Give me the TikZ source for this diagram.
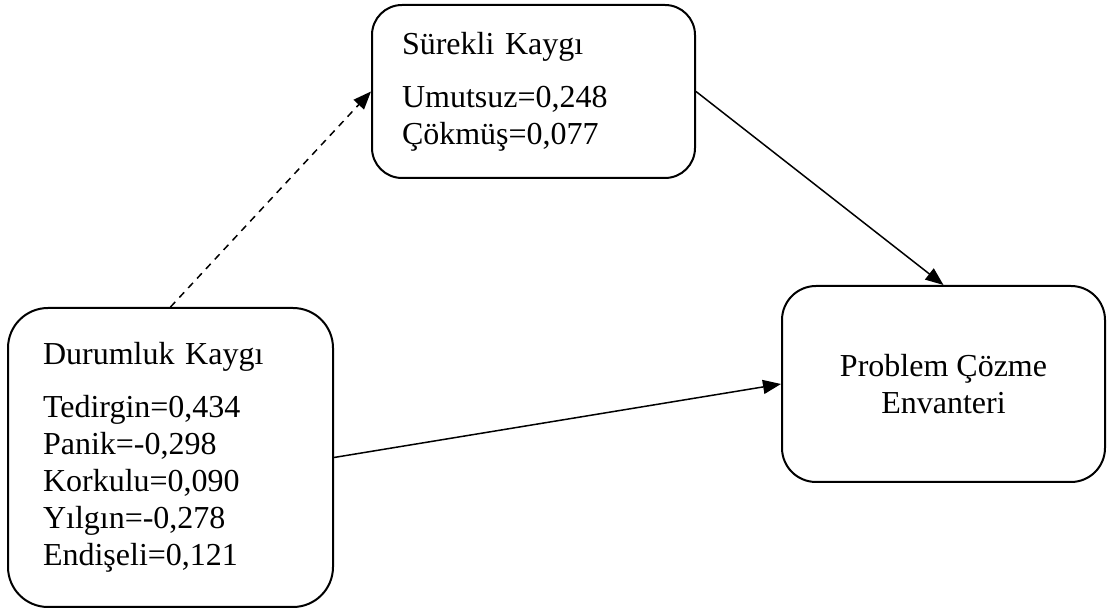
\documentclass[tikz,border=0pt]{standalone}
\usepackage{fontspec}
\setmainfont{Liberation Serif}
\usetikzlibrary{arrows.meta}

\begin{document}
\begin{tikzpicture}[x=0.5pt, y=-0.5pt, every node/.style={font=\fontsize{16}{18.5}\selectfont}, box/.style={draw,line width=1pt,inner ysep=0pt}, arr/.style={-{Triangle[length=9pt,width=7pt]},line width=0.75pt}]
\useasboundingbox (0,0) rectangle (1109,613);
\node[box,rounded corners=20pt,minimum width=162.5pt,minimum height=149.5pt,text width=127.5pt,inner xsep=17.5pt,align=left] (durum) at (170.5,457.5) {Durumluk Kaygı\\[8pt]Tedirgin=0,434\\Panik=-0,298\\Korkulu=0,090\\Yılgın=-0,278\\Endişeli=0,121};
\node[box,rounded corners=15pt,minimum width=161.5pt,minimum height=86.5pt,text width=131.5pt,inner xsep=15pt,align=left] (surekli) at (533.5,91.5) {Sürekli Kaygı\\[8pt]Umutsuz=0,248\\Çökmüş=0,077};
\node[box,rounded corners=17pt,minimum width=161.5pt,minimum height=98pt,align=center] (problem) at (943.5,384) {Problem Çözme\\Envanteri};
\draw[arr,dash pattern=on 3.5pt off 3pt] (durum.north) -- (surekli.west);
\draw[arr] (surekli.east) -- (problem.north);
\draw[arr] (durum.east) -- (problem.west);
\end{tikzpicture}
\end{document}
